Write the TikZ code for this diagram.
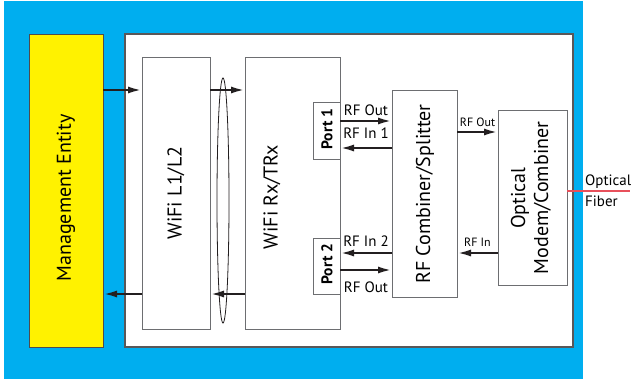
\documentclass[tikz,border=0pt]{standalone}
\usepackage{fontspec}
\setmainfont{PT Sans}
\usetikzlibrary{arrows.meta,shapes.geometric}
\definecolor{bgblue}{HTML}{00AEEF}
\definecolor{mgmtyellow}{HTML}{FFF200}
\definecolor{edgegray}{HTML}{6D6E71}
\definecolor{inkblack}{HTML}{231F20}
\definecolor{fiberred}{HTML}{E8505B}
\begin{document}
\begin{tikzpicture}[x=1pt, y=-1pt,
  box/.style={draw=edgegray, line width=1pt, fill=white, inner sep=0pt, outer sep=0pt},
  title/.style={font=\fontsize{20}{23}\selectfont, align=center, rotate=90},
  porttxt/.style={font=\fontsize{15.5}{17}\selectfont\bfseries, rotate=90},
  lbl/.style={font=\fontsize{15}{21}\selectfont, inner sep=0pt},
  smalllbl/.style={font=\fontsize{12}{13}\selectfont, inner sep=0pt},
  sig/.style={draw=inkblack, line width=2.4pt, -{Latex[length=14pt,width=7pt]}}]
\useasboundingbox (0,0) rectangle (634,385);
\fill[bgblue] (4,1) rectangle (583,379);
% blocks
\node[draw=inkblack!80, line width=1pt, fill=mgmtyellow, inner sep=0pt, outer sep=0pt, minimum width=74pt, minimum height=312pt] (mgmt) at (66,191) {};
\node[box, draw=inkblack!75, line width=1.5pt, minimum width=448pt, minimum height=313pt] (frame) at (349,190.5) {};
\node[box, minimum width=68pt, minimum height=271pt] (mac) at (176,193.5) {};
\node[box, minimum width=95pt, minimum height=271pt] (radio) at (292.5,193.5) {};
\node[box, minimum width=27pt, minimum height=56pt] (port1) at (326.5,131) {};
\node[box, minimum width=27pt, minimum height=56pt] (port2) at (326.5,266) {};
\node[box, minimum width=65pt, minimum height=206pt] (combiner) at (424.5,194) {};
\node[box, minimum width=69pt, minimum height=174pt] (modem) at (532.5,198) {};
\node[ellipse, draw=inkblack, line width=0.8pt, inner sep=0pt, minimum width=12pt, minimum height=245pt] (bundle) at (223,200.5) {};
% texts
\node[title] (mgmttxt) at (66,198) {Management Entity};
\node[title] (mactxt) at (176,193) {WiFi L1/L2};
\node[title] (radiotxt) at (272,197) {WiFi Rx/TRx};
\node[porttxt] (port1txt) at (327,129) {Port 1};
\node[porttxt] (port2txt) at (327,264) {Port 2};
\node[title] (combtxt) at (425,194) {RF Combiner/Splitter};
\node[title] (modemtxt) at (531,198) {Optical\\Modem/Combiner};
% connectors
\draw[sig] (mgmt.east |- 0,90) -- (mac.west |- 0,90);
\draw[sig] (mac.east |- 0,90) -- (radio.west |- 0,90);
\draw[sig] (mac.west |- 0,294) -- (mgmt.east |- 0,294);
\draw[sig] (radio.west |- 0,294) -- (mac.east |- 0,294);
\draw[sig] (port1.east |- 0,121) -- node[lbl, above=4pt] {RF Out} (combiner.west |- 0,121);
\draw[sig] (combiner.west |- 0,148) -- node[lbl, above=8pt] {RF In 1} (port1.east |- 0,148);
\draw[sig] (combiner.west |- 0,253) -- node[lbl, above=5pt] {RF In 2} (port2.east |- 0,253);
\draw[sig] (port2.east |- 0,270) -- node[lbl, below=11pt] {RF Out} (combiner.west |- 0,270);
\draw[sig] (combiner.east |- 0,132) -- node[smalllbl, above=4pt] {RF Out} (modem.west |- 0,132);
\draw[sig] (modem.west |- 0,253) -- node[smalllbl, above=5pt] {RF In} (combiner.east |- 0,253);
% fiber
\coordinate (fiberend) at (630,191);
\draw[fiberred, line width=1.2pt] (modem.east |- 0,191) -- (fiberend);
\node[lbl, align=left, anchor=west] (fibertxt) at (585,191) {Optical\\Fiber};
\end{tikzpicture}
\end{document}
